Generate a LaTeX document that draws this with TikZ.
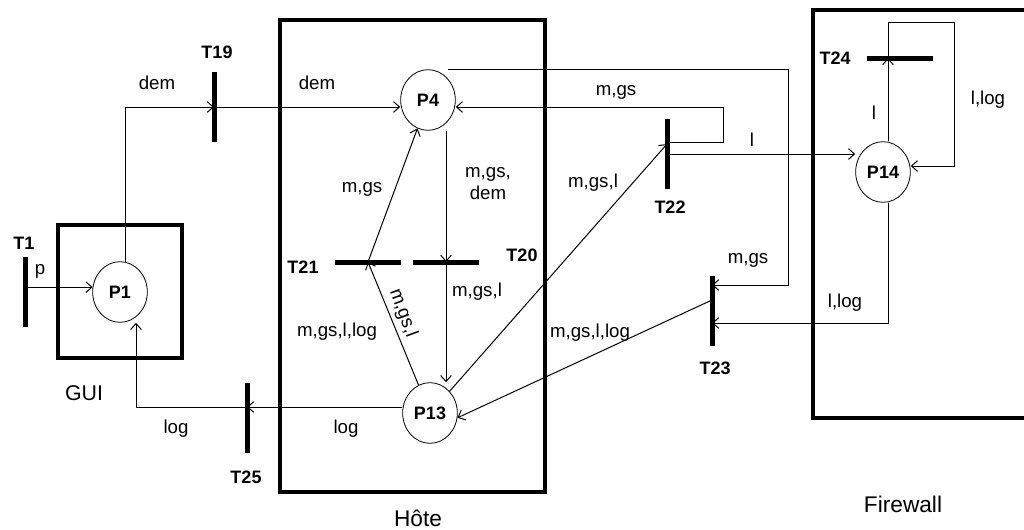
\documentclass[tikz,border=0pt]{standalone}
\usepackage{fontspec}
\setmainfont{Liberation Sans}
\usetikzlibrary{arrows.meta,shapes.geometric,calc}
\begin{document}
\begin{tikzpicture}[x=0.75pt,y=-0.75pt,
  place/.style={draw,ellipse,line width=0.6pt,minimum width=41pt,minimum height=45.5pt,inner sep=0pt,font=\fontsize{13.5}{15}\selectfont\bfseries},
  vbar/.style={fill=black,minimum width=3.75pt,minimum height=52.5pt,inner sep=0pt},
  hbar/.style={fill=black,minimum width=49.5pt,minimum height=3.75pt,inner sep=0pt},
  tlabel/.style={font=\fontsize{13.5}{15}\selectfont\bfseries,inner sep=0pt},
  alabel/.style={font=\fontsize{14}{16.5}\selectfont,inner sep=0pt},
  zone/.style={draw,line width=3.2pt},
  zlabel/.style={font=\fontsize{17}{19}\selectfont,inner sep=0pt},
  arc/.style={line width=0.75pt,-{Straight Barb[length=4.5pt,width=8pt]}}
]
\useasboundingbox (0,0) rectangle (1024,529);
\clip (0,0) rectangle (1024,529);

% zones
\draw[zone] (58,225) rectangle (182,358);
\draw[zone] (280,20) rectangle (545,492);
\draw[zone] (813,10) rectangle (1040,418);

% places
\node[place] (P1) at (120,292) {P1};
\node[place] (P4) at (428,100) {P4};
\node[place] (P13) at (430,413) {P13};
\node[place] (P14) at (883,172) {P14};

% transitions
\node[vbar] (T1) at (25,292) {};
\node[vbar] (T19) at (214,107) {};
\node[vbar] (T25) at (247,418) {};
\node[vbar] (T22) at (667,154) {};
\node[vbar] (T23) at (712,311) {};
\node[hbar] (T21) at (368,262) {};
\node[hbar] (T20) at (446,262) {};
\node[hbar] (T24) at (900,58) {};

% helper coordinates
\coordinate (h1) at (136,407);
\coordinate (k1) at (723,142);
\coordinate (k2) at (723,107);
\coordinate (m1) at (788,69);
\coordinate (m2) at (788,285);
\coordinate (n1) at (888,323);
\coordinate (q1) at (888,22);
\coordinate (q2) at (954,22);
\coordinate (q3) at (954,166);

% arcs
\draw[arc] (T1.center |- P1.170) -- (P1.170);
\draw[arc] (P1.80) |- (T19.center);
\draw[arc] (T19.center) -- (T19.center -| P4.west);
\draw[arc] (P4.south -| T20.center) -- (T20.center);
\draw[arc] (T21.center) -- (P4);
\draw[arc] (T20.center) -- (T20.center |- P13.north);
\draw[arc] (P13) -- (T21.center);
\draw[arc] (P13.west |- h1) -- (T25.center |- h1);
\draw[arc] (T25.center |- h1) -- (h1) -- (h1 |- P1.south);
\draw[arc] (P13.north east) -- ($(T22.center)+(0,-10)$);
\draw[arc] (T22.center |- k1) -- (k1) -- (k2) -- (k2 -| P4.east);
\draw[arc] (T22.center) -- (T22.center -| P14.west);
\draw[arc] (P4.north east |- m1) -- (m1) -- (m2) -- (T23.center |- m2);
\draw[arc] (P14.south -| n1) -- (n1) -- (T23.center |- n1);
\draw[arc] ($(T23.center)+(0,-11)$) -- (P13.-10);
\draw[arc] (P14.north -| n1) -- (T24.center -| n1);
\draw[arc] (T24.center -| n1) -- (q1) -- (q2) -- (q3) -- (q3 -| P14.east);

% labels
\node[tlabel] at (24,243) {T1};
\node[alabel] at (40,271) {p};
\node[alabel] at (157,83) {dem};
\node[tlabel] at (217,52) {T19};
\node[alabel] at (317,83) {dem};
\node[alabel] at (362,189) {m,gs};
\node[alabel,align=center] at (488,184) {m,gs,\\dem};
\node[tlabel] at (303,267) {T21};
\node[tlabel] at (522,255) {T20};
\node[alabel,rotate=-70] at (403,313) {m,gs,l};
\node[alabel] at (477,292) {m,gs,l};
\node[alabel] at (337,332) {m,gs,l,log};
\node[alabel] at (346,429) {log};
\node[alabel] at (176,429) {log};
\node[tlabel] at (246,477) {T25};
\node[zlabel,font=\fontsize{16}{18}\selectfont] at (84,393) {GUI};
\node[zlabel] at (418,518) {Hôte};
\node[alabel] at (616,92) {m,gs};
\node[alabel] at (593,183) {m,gs,l};
\node[tlabel] at (670,207) {T22};
\node[alabel] at (752,140) {l};
\node[alabel] at (748,260) {m,gs};
\node[tlabel] at (715,368) {T23};
\node[alabel] at (590,333) {m,gs,l,log};
\node[alabel] at (845,303) {l,log};
\node[tlabel] at (835,58) {T24};
\node[alabel] at (874,113) {l};
\node[alabel] at (988,100) {l,log};
\node[zlabel] at (903,504) {Firewall};
\end{tikzpicture}
\end{document}
